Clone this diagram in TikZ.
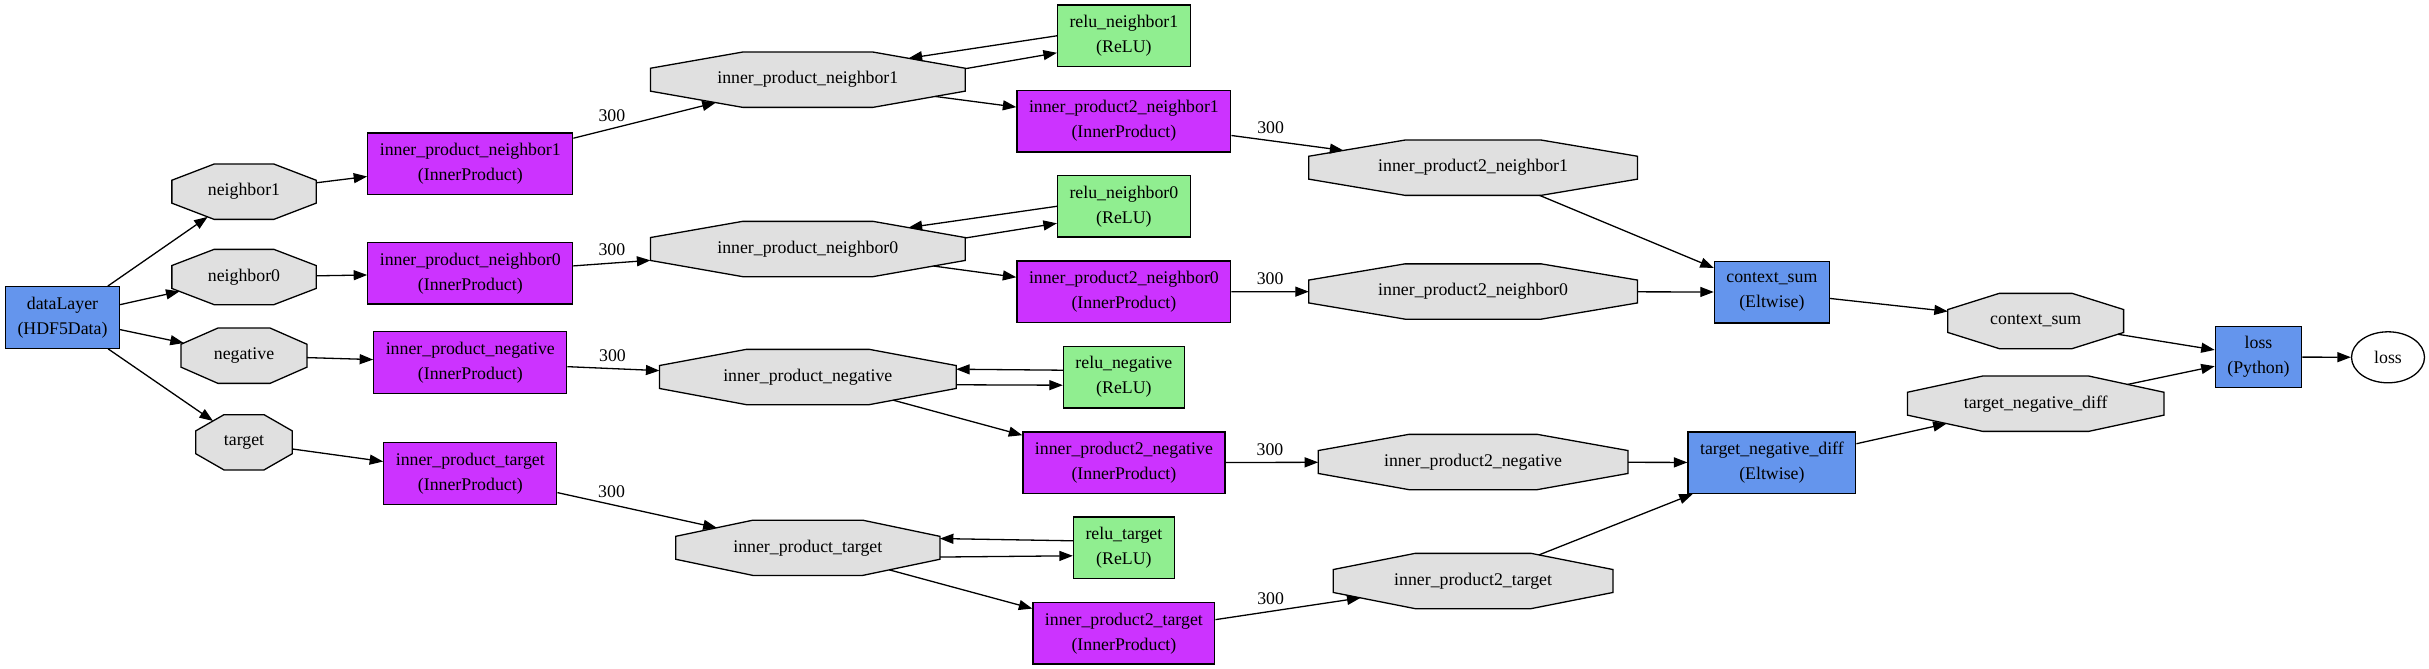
\documentclass[tikz,border=0pt]{standalone}
\usepackage{fontspec}
\setmainfont{Liberation Serif}
\usetikzlibrary{arrows.meta,shapes.geometric}
\definecolor{layerblue}{HTML}{6495ED}
\definecolor{ipviolet}{HTML}{CC33FF}
\definecolor{relugreen}{HTML}{90EE90}
\definecolor{blobgray}{HTML}{E0E0E0}

\makeatletter
\pgfdeclareshape{octagon}{%
  \inheritsavedanchors[from=rectangle]%
  \inheritanchor[from=rectangle]{center}%
  \inheritanchor[from=rectangle]{north}%
  \inheritanchor[from=rectangle]{south}%
  \inheritanchor[from=rectangle]{east}%
  \inheritanchor[from=rectangle]{west}%
  \inheritanchor[from=rectangle]{mid}%
  \inheritanchor[from=rectangle]{base}%
  \backgroundpath{%
    \southwest\edef\octxa{\the\pgf@x}\edef\octya{\the\pgf@y}%
    \northeast\edef\octxb{\the\pgf@x}\edef\octyb{\the\pgf@y}%
    \pgf@xc=\octxb\advance\pgf@xc by-\octxa\pgf@xc=.29289\pgf@xc
    \pgf@yc=\octyb\advance\pgf@yc by-\octya\pgf@yc=.29289\pgf@yc
    \edef\octxc{\the\pgf@xc}\edef\octyc{\the\pgf@yc}%
    \pgfpathmoveto{\pgfqpoint{\octxb}{\dimexpr\octyb-\octyc\relax}}%
    \pgfpathlineto{\pgfqpoint{\dimexpr\octxb-\octxc\relax}{\octyb}}%
    \pgfpathlineto{\pgfqpoint{\dimexpr\octxa+\octxc\relax}{\octyb}}%
    \pgfpathlineto{\pgfqpoint{\octxa}{\dimexpr\octyb-\octyc\relax}}%
    \pgfpathlineto{\pgfqpoint{\octxa}{\dimexpr\octya+\octyc\relax}}%
    \pgfpathlineto{\pgfqpoint{\dimexpr\octxa+\octxc\relax}{\octya}}%
    \pgfpathlineto{\pgfqpoint{\dimexpr\octxb-\octxc\relax}{\octya}}%
    \pgfpathlineto{\pgfqpoint{\octxb}{\dimexpr\octya+\octyc\relax}}%
    \pgfpathclose
  }%
  \anchorborder{%
    \edef\octdx{\the\pgf@x}\edef\octdy{\the\pgf@y}%
    \southwest\edef\octxa{\the\pgf@x}\edef\octya{\the\pgf@y}%
    \northeast\edef\octxb{\the\pgf@x}\edef\octyb{\the\pgf@y}%
    \pgfmathsetmacro\octp{2*abs(\octdx)/((\octxb)-(\octxa))}%
    \pgfmathsetmacro\octq{2*abs(\octdy)/((\octyb)-(\octya))}%
    \pgfmathsetmacro\octt{max(\octp,\octq,(\octp+\octq)/1.41421,0.001)}%
    \pgfmathsetmacro\octx{((\octxa)+(\octxb))/2+(\octdx)/\octt}%
    \pgfmathsetmacro\octy{((\octya)+(\octyb))/2+(\octdy)/\octt}%
    \pgf@x=\octx pt\relax
    \pgf@y=\octy pt\relax
  }%
}
\makeatother

\begin{document}
\begin{tikzpicture}[x=1pt,y=-1pt]
  \useasboundingbox (0,0) rectangle (2429,669);
  \tikzstyle{every node}=[font=\fontsize{17.8pt}{25pt}\selectfont]
  \tikzstyle{layer}=[draw, line width=1.3pt, inner xsep=12pt, minimum height=61.5pt, align=center]
  \tikzstyle{blob}=[octagon, draw, fill=blobgray, line width=1.3pt, outer sep=0pt, inner sep=0pt, minimum height=55.3pt, minimum width=#1]
  \tikzstyle{wire}=[-{Triangle[length=13.5pt,width=10pt]}, line width=1.3pt]

  \node[layer, fill=layerblue] (lData) at (62.5,317.5) {dataLayer\\(HDF5Data)};

  \node[blob=144.3] (bNbr1) at (244,191.7) {neighbor1};
  \node[blob=144.3] (bNbr0) at (244,277) {neighbor0};
  \node[blob=126] (bNeg) at (244,355.7) {negative};
  \node[blob=96.4] (bTgt) at (244,442.3) {target};

  \node[layer, fill=ipviolet] (lIpNbr1) at (470.3,163.8) {inner\_product\_neighbor1\\(InnerProduct)};
  \node[layer, fill=ipviolet] (lIpNbr0) at (470.3,273.3) {inner\_product\_neighbor0\\(InnerProduct)};
  \node[layer, fill=ipviolet] (lIpNeg) at (470.3,362.5) {inner\_product\_negative\\(InnerProduct)};
  \node[layer, fill=ipviolet] (lIpTgt) at (470.3,473.5) {inner\_product\_target\\(InnerProduct)};

  \node[blob=314.8] (bIpNbr1) at (807.8,79.7) {inner\_product\_neighbor1};
  \node[blob=314.8] (bIpNbr0) at (807.8,249) {inner\_product\_neighbor0};
  \node[blob=296.8] (bIpNeg) at (807.8,377) {inner\_product\_negative};
  \node[blob=264.3] (bIpTgt) at (807.8,547.8) {inner\_product\_target};

  \node[layer, fill=relugreen] (lReluNbr1) at (1123.9,35.8) {relu\_neighbor1\\(ReLU)};
  \node[layer, fill=relugreen] (lReluNbr0) at (1123.9,206.3) {relu\_neighbor0\\(ReLU)};
  \node[layer, fill=relugreen] (lReluNeg) at (1123.9,377.2) {relu\_negative\\(ReLU)};
  \node[layer, fill=relugreen] (lReluTgt) at (1123.9,547.8) {relu\_target\\(ReLU)};

  \node[layer, fill=ipviolet] (lIp2Nbr1) at (1123.9,121.2) {inner\_product2\_neighbor1\\(InnerProduct)};
  \node[layer, fill=ipviolet] (lIp2Nbr0) at (1123.9,291.8) {inner\_product2\_neighbor0\\(InnerProduct)};
  \node[layer, fill=ipviolet] (lIp2Neg) at (1123.9,462.7) {inner\_product2\_negative\\(InnerProduct)};
  \node[layer, fill=ipviolet] (lIp2Tgt) at (1123.9,633.3) {inner\_product2\_target\\(InnerProduct)};

  \node[blob=328.6] (bIp2Nbr1) at (1473.1,167.7) {inner\_product2\_neighbor1};
  \node[blob=328.6] (bIp2Nbr0) at (1473.1,291.5) {inner\_product2\_neighbor0};
  \node[blob=309.8] (bIp2Neg) at (1473.1,462) {inner\_product2\_negative};
  \node[blob=279.9] (bIp2Tgt) at (1473.1,581) {inner\_product2\_target};

  \node[layer, fill=layerblue] (lSum) at (1771.9,292.1) {context\_sum\\(Eltwise)};
  \node[layer, fill=layerblue] (lDiff) at (1771.9,462.6) {target\_negative\_diff\\(Eltwise)};

  \node[blob=175.8] (bSum) at (2035.7,321) {context\_sum};
  \node[blob=256.4] (bDiff) at (2035.7,403.7) {target\_negative\_diff};

  \node[layer, fill=layerblue] (lLoss) at (2258.5,357) {loss\\(Python)};
  \node[draw, ellipse, line width=1.3pt, fill=white, inner sep=0pt, minimum width=73pt, minimum height=51pt] (bLoss) at (2388,357.3) {loss};

  \draw[wire] (lData) -- (bNbr1);
  \draw[wire] (lData) -- (bNbr0);
  \draw[wire] (lData) -- (bNeg);
  \draw[wire] (lData) -- (bTgt);

  \draw[wire] (bNbr1) -- (lIpNbr1);
  \draw[wire] (bNbr0) -- (lIpNbr0);
  \draw[wire] (bNeg) -- (lIpNeg);
  \draw[wire] (bTgt) -- (lIpTgt);

  \draw[wire] (lIpNbr1) -- node[pos=.27, above=3pt] (nIpNbr1) {300} (bIpNbr1);
  \draw[wire] (lIpNbr0) -- node[pos=.5, above=3pt] (nIpNbr0) {300} (bIpNbr0);
  \draw[wire] (lIpNeg) -- node[pos=.49, above=3pt] (nIpNeg) {300} (bIpNeg);
  \draw[wire] (lIpTgt) -- node[pos=.34, above=3pt] (nIpTgt) {300} (bIpTgt);

  \draw[wire] (lReluNbr1.west) -- (bIpNbr1.12);
  \draw[wire] (bIpNbr1.4) -- ([yshift=-17pt]lReluNbr1.west);
  \draw[wire] (lReluNbr0.west) -- (bIpNbr0.12);
  \draw[wire] (bIpNbr0.4) -- ([yshift=-17pt]lReluNbr0.west);
  \draw[wire] ([yshift=7pt]lReluNeg.west) -- (bIpNeg.3);
  \draw[wire] (bIpNeg.-3) -- ([yshift=-8pt]lReluNeg.west);
  \draw[wire] ([yshift=7pt]lReluTgt.west) -- (bIpTgt.4);
  \draw[wire] (bIpTgt.-4) -- ([yshift=-8pt]lReluTgt.west);

  \draw[wire] (bIpNbr1) -- (lIp2Nbr1);
  \draw[wire] (bIpNbr0) -- (lIp2Nbr0);
  \draw[wire] (bIpNeg) -- (lIp2Neg);
  \draw[wire] (bIpTgt) -- (lIp2Tgt);

  \draw[wire] (lIp2Nbr1) -- node[pos=.35, above=3pt] (nIp2Nbr1) {300} (bIp2Nbr1);
  \draw[wire] (lIp2Nbr0) -- node[pos=.5, above=3pt] (nIp2Nbr0) {300} (bIp2Nbr0);
  \draw[wire] (lIp2Neg) -- node[pos=.48, above=3pt] (nIp2Neg) {300} (bIp2Neg);
  \draw[wire] (lIp2Tgt) -- node[pos=.38, above=3pt] (nIp2Tgt) {300} (bIp2Tgt);

  \draw[wire] (bIp2Nbr1) -- (lSum);
  \draw[wire] (bIp2Nbr0) -- (lSum);
  \draw[wire] (bIp2Neg) -- (lDiff);
  \draw[wire] (bIp2Tgt) -- (lDiff);

  \draw[wire] (lSum) -- (bSum);
  \draw[wire] (lDiff) -- (bDiff);
  \draw[wire] (bSum) -- (lLoss);
  \draw[wire] (bDiff) -- (lLoss);
  \draw[wire] (lLoss) -- (bLoss);
\end{tikzpicture}
\end{document}
